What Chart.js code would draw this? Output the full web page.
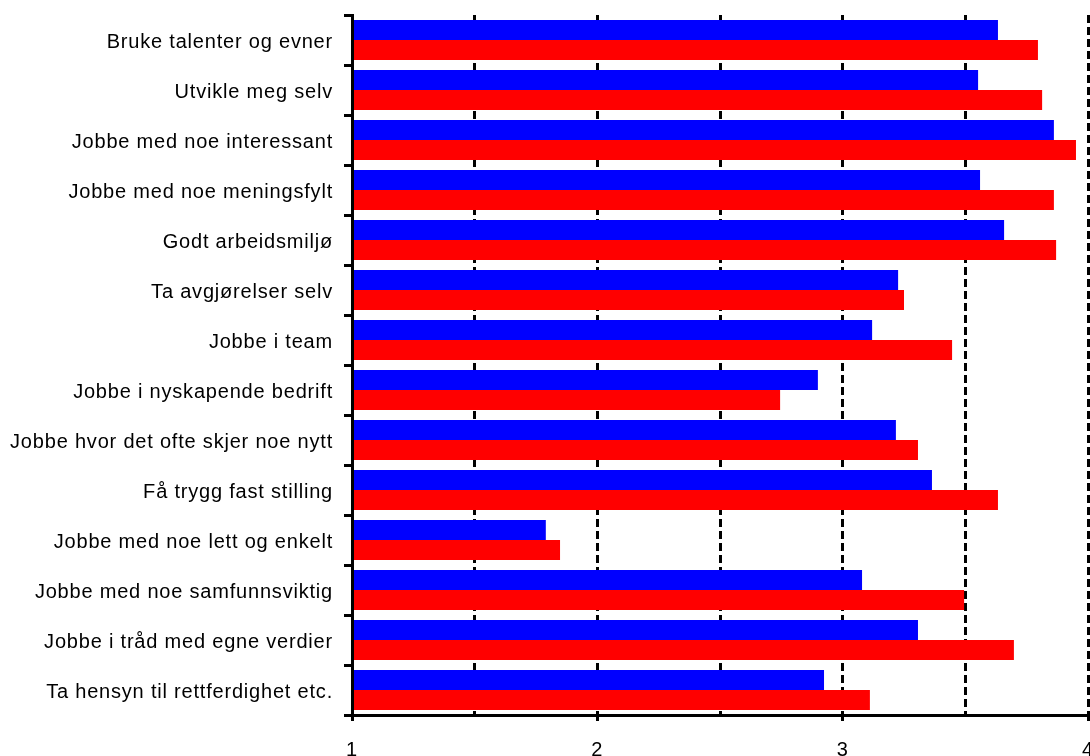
<!DOCTYPE html>
<html>
<head>
<meta charset="utf-8">
<script src="https://cdn.jsdelivr.net/npm/chart.js@4/dist/chart.umd.min.js"></script>
<style>
  html, body { margin: 0; padding: 0; overflow: hidden; background: #fff; }
  #chart { display: block; }
</style>
</head>
<body>
<canvas id="chart" width="1100" height="775"></canvas>
<script>
// kategorier (ovenfra og ned)
const categories = [
  "Bruke talenter og evner",
  "Utvikle meg selv",
  "Jobbe med noe interessant",
  "Jobbe med noe meningsfylt",
  "Godt arbeidsmiljø",
  "Ta avgjørelser selv",
  "Jobbe i team",
  "Jobbe i nyskapende bedrift",
  "Jobbe hvor det ofte skjer noe nytt",
  "Få trygg fast stilling",
  "Jobbe med noe lett og enkelt",
  "Jobbe med noe samfunnsviktig",
  "Jobbe i tråd med egne verdier",
  "Ta hensyn til rettferdighet etc."
];

// blå serie
const blueValues = [3.633, 3.552, 3.861, 3.560, 3.658, 3.226, 3.120, 2.899, 3.217, 3.364, 1.790, 3.079, 3.307, 2.924];
// rød serie
const redValues = [3.796, 3.813, 3.951, 3.861, 3.870, 3.250, 3.446, 2.745, 3.307, 3.633, 1.848, 3.495, 3.698, 3.111];

// akse
const axisMin = 1;
const axisMax = 4;
const axisStep = 0.5;
const tickLabels = ["1", "2", "3", "4"];

const font = "'Liberation Sans', Arial, sans-serif";

// litt ekstra bokstavavstand som i originalen
const spacingPlugin = {
  id: "spacing",
  beforeUpdate(chart) { chart.ctx.letterSpacing = "0.8px"; },
  beforeDraw(chart) { chart.ctx.letterSpacing = "0.8px"; }
};

const ctx = document.getElementById("chart").getContext("2d");

new Chart(ctx, {
  type: "bar",
  data: {
    labels: categories,
    datasets: [
      {
        label: "Blå",
        data: blueValues,
        backgroundColor: "#0000ff",
        base: axisMin
      },
      {
        label: "Rød",
        data: redValues,
        backgroundColor: "#ff0000",
        base: axisMin
      }
    ]
  },
  options: {
    indexAxis: "y",
    responsive: false,
    animation: false,
    devicePixelRatio: 1,
    categoryPercentage: 0.8,
    barPercentage: 1.0,
    layout: { padding: { top: 15, right: 12, bottom: 0, left: 0 } },
    plugins: {
      legend: { display: false },
      title: { display: false },
      tooltip: { enabled: false }
    },
    scales: {
      x: {
        type: "linear",
        min: axisMin,
        max: axisMax,
        afterFit(s) {
          s.height = 60;
          s.paddingLeft = 0;
          s.paddingRight = 0;
        },
        ticks: {
          stepSize: axisStep,
          padding: 17,
          color: "#000",
          font: { family: font, size: 20 },
          maxRotation: 0,
          autoSkip: false,
          callback(v) {
            const s = String(v);
            return tickLabels.includes(s) ? s : "";
          }
        },
        grid: {
          color: "#000",
          lineWidth: 3,
          tickLength: 6,
          tickWidth: 3,
          tickColor(c) {
            return c.tick && Number.isInteger(c.tick.value) ? "#000" : "rgba(0,0,0,0)";
          }
        },
        border: { display: true, color: "#000", width: 3, dash: [8, 4], z: 1 }
      },
      y: {
        afterFit(s) {
          s.width = 352;
          s.paddingTop = 0;
          s.paddingBottom = 0;
        },
        ticks: {
          padding: 11,
          labelOffset: 2,
          color: "#000",
          font: { family: font, size: 20 },
          autoSkip: false
        },
        grid: {
          drawOnChartArea: false,
          color: "#000",
          tickLength: 8,
          tickWidth: 3,
          offset: true
        },
        border: { display: true, color: "#000", width: 3, z: 1 }
      }
    }
  },
  plugins: [spacingPlugin]
});
</script>
</body>
</html>
